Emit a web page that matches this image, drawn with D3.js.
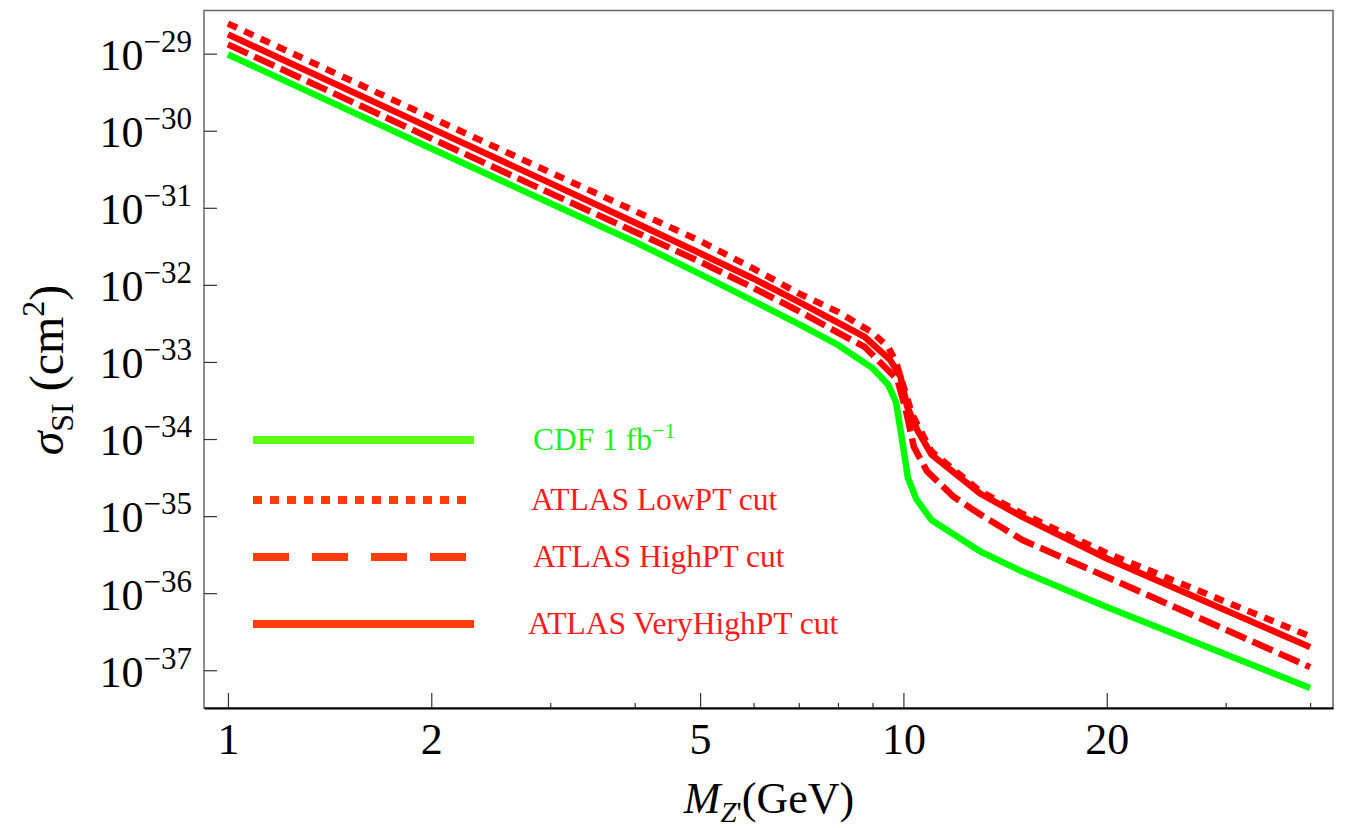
<!DOCTYPE html>
<html>
<head>
<meta charset="utf-8">
<script src="https://cdnjs.cloudflare.com/ajax/libs/d3/7.8.5/d3.min.js"></script>
<style>
body { margin: 0; background: #fff; }
text { font-family: "Liberation Serif", "Times New Roman", serif; }
</style>
</head>
<body>
<div id="chart"></div>
<script>
// Data: Z' mass (GeV) and log10 of sigma_SI (cm^2)
var cdfMass = [1, 2, 3, 4, 5, 6, 7, 8, 9, 9.5, 9.75, 9.85, 10, 10.15, 10.45, 11, 13, 15, 20, 40];
var cdfLogSigma = [-29.01, -30.23, -30.94, -31.44, -31.86, -32.21, -32.51, -32.78, -33.08, -33.30, -33.52, -33.76, -34.12, -34.50, -34.78, -35.05, -35.46, -35.72, -36.18, -37.23];

var lowMass = [1, 2, 3, 4, 5, 6, 7, 8, 9, 9.5, 9.75, 10.3, 11, 13, 15, 20, 40];
var lowLogSigma = [-28.61, -29.83, -30.54, -31.04, -31.43, -31.79, -32.11, -32.35, -32.62, -32.81, -33.00, -33.68, -34.16, -34.68, -34.97, -35.48, -36.56];

var highMass = [1, 2, 3, 4, 5, 6, 7, 8, 8.75, 9.8, 10.1, 10.36, 10.84, 11.87, 13, 15, 20, 40];
var highLogSigma = [-28.88, -30.10, -30.81, -31.31, -31.70, -32.04, -32.34, -32.62, -32.80, -33.23, -33.65, -34.10, -34.42, -34.75, -34.98, -35.31, -35.79, -36.96];

var veryHighMass = [1, 2, 3, 4, 5, 6, 7, 8, 8.75, 9.55, 9.9, 10.13, 10.48, 11, 13, 15, 20, 40];
var veryHighLogSigma = [-28.75, -29.97, -30.68, -31.19, -31.59, -31.92, -32.22, -32.49, -32.67, -32.97, -33.19, -33.58, -33.88, -34.20, -34.71, -35.01, -35.55, -36.70];

// Axis ticks
var xMajorTicks = [1, 2, 5, 10, 20];
var xMinorTicks = [3, 4, 6, 7, 8, 9, 30, 40];
var yTickExponents = [-29, -30, -31, -32, -33, -34, -35, -36, -37];

// Legend
var legendNames = ["CDF 1 fb", "ATLAS LowPT cut", "ATLAS HighPT cut", "ATLAS VeryHighPT cut"];

// Set up SVG width and height
var svgWidth = 1356;
var svgHeight = 828;

var margin = { top: 10.5, right: 23, bottom: 120, left: 204 };
var width = svgWidth - margin.left - margin.right;
var height = svgHeight - margin.top - margin.bottom;

var svg = d3.select("#chart")
	.append("svg")
	.attr("width", svgWidth)
	.attr("height", svgHeight);

var chartGroup = svg.append("g")
	.attr("transform", `translate(${margin.left}, ${margin.top})`);

// scales
var xScale = d3.scaleLog()
	.domain([0.9216, 43.25])
	.range([0, width]);

var yScale = d3.scaleLog()
	.domain([Math.pow(10, -37.49), Math.pow(10, -28.44)])
	.range([height, 0]);

// series table built from the arrays
function makeSeries(mass, logSigma) {
	return mass.map((m, i) => ({ m: m, s: Math.pow(10, logSigma[i]) }));
}

var series = [
	{ data: makeSeries(cdfMass, cdfLogSigma), color: "#00ff00", dash: null },
	{ data: makeSeries(veryHighMass, veryHighLogSigma), color: "#ff0000", dash: null },
	{ data: makeSeries(highMass, highLogSigma), color: "#ff0000", dash: "22,7" },
	{ data: makeSeries(lowMass, lowLogSigma), color: "#ff0000", dash: "10,8" }
];

var line = d3.line()
	.x(d => xScale(d.m))
	.y(d => yScale(d.s));

// draw lines
chartGroup.selectAll(".series")
	.data(series)
	.enter()
	.append("path")
	.attr("class", "series")
	.attr("d", d => line(d.data))
	.attr("fill", "none")
	.attr("stroke", d => d.color)
	.attr("stroke-width", 6.5)
	.attr("stroke-linejoin", "round")
	.attr("stroke-dasharray", d => d.dash);

// frame
chartGroup.append("rect")
	.attr("x", 0)
	.attr("y", 0)
	.attr("width", width)
	.attr("height", height)
	.attr("fill", "none")
	.attr("stroke", "#666")
	.attr("stroke-width", 1.5);

// x axis (ticks point inward)
var xAxis = chartGroup.append("g")
	.attr("transform", `translate(0, ${height})`)
	.call(d3.axisBottom(xScale)
		.tickValues(xMajorTicks)
		.tickSizeInner(-15)
		.tickSizeOuter(0)
		.tickPadding(15)
		.tickFormat(d3.format("d")));

xAxis.select(".domain").attr("stroke", "#000").attr("stroke-width", 2);
xAxis.selectAll(".tick line").attr("stroke", "#333").attr("stroke-width", 1.2);
xAxis.selectAll(".tick text")
	.attr("fill", "#000")
	.style("font-size", "44px")
	.style("font-family", "'Liberation Serif', serif");

var xMinor = chartGroup.append("g")
	.attr("transform", `translate(0, ${height})`)
	.call(d3.axisBottom(xScale)
		.tickValues(xMinorTicks)
		.tickSizeInner(-5)
		.tickSizeOuter(0)
		.tickFormat(""));
xMinor.select(".domain").remove();
xMinor.selectAll(".tick line").attr("stroke", "#333").attr("stroke-width", 1.2);

// y axis
var yAxis = chartGroup.append("g")
	.call(d3.axisLeft(yScale)
		.tickValues(yTickExponents.map(e => Math.pow(10, e)))
		.tickSizeInner(-13)
		.tickSizeOuter(0)
		.tickPadding(12)
		.tickFormat(""));

yAxis.select(".domain").remove();
yAxis.selectAll(".tick line").attr("stroke", "#333").attr("stroke-width", 1.2);
yAxis.selectAll(".tick text")
	.attr("fill", "#000")
	.attr("dy", "0.36em")
	.style("font-size", "44px")
	.style("font-family", "'Liberation Serif', serif")
	.each(function(d, i) {
		var t = d3.select(this);
		t.append("tspan").text("10");
		t.append("tspan")
			.attr("dy", -18)
			.style("font-size", "31px")
			.text("\u2212" + Math.abs(yTickExponents[i]));
	});

// x label
var xLabel = svg.append("text")
	.attr("x", 769)
	.attr("y", 813)
	.attr("text-anchor", "middle")
	.style("font-size", "44px");
xLabel.append("tspan").style("font-style", "italic").text("M");
xLabel.append("tspan").attr("dy", 9).style("font-size", "29px").style("font-style", "italic").text("Z");
xLabel.append("tspan").style("font-size", "29px").text("'");
xLabel.append("tspan").attr("dy", -9).text("(GeV)");

// y label
var yLabel = svg.append("text")
	.attr("transform", "translate(63, 370) rotate(-90)")
	.attr("text-anchor", "middle")
	.style("font-size", "48px");
yLabel.append("tspan").style("font-style", "italic").text("\u03c3");
yLabel.append("tspan").attr("dy", 10).style("font-size", "32px").text("SI");
yLabel.append("tspan").attr("dy", -10).text(" (cm");
yLabel.append("tspan").attr("dy", -19).style("font-size", "32px").text("2");
yLabel.append("tspan").attr("dy", 19).text(")");

// legend
var legendLineColors = ["#5cff1a", "#ff3c0a", "#ff3c0a", "#ff3c0a"];
var legendTextColors = ["#22f022", "#ff1a1a", "#ff1a1a", "#ff1a1a"];
var legendDashes = [null, "9,8", "36,23", null];
var legendY = [440, 500, 557, 624];
var legendTextX = [533, 531, 533, 528];

var legend = svg.append("g");

legend.selectAll("line")
	.data(legendNames)
	.enter()
	.append("line")
	.attr("x1", 253)
	.attr("x2", 474)
	.attr("y1", (d, i) => legendY[i])
	.attr("y2", (d, i) => legendY[i])
	.attr("stroke", (d, i) => legendLineColors[i])
	.attr("stroke-width", 8)
	.attr("stroke-dasharray", (d, i) => legendDashes[i]);

legend.selectAll("text")
	.data(legendNames)
	.enter()
	.append("text")
	.attr("x", (d, i) => legendTextX[i])
	.attr("y", (d, i) => legendY[i] + 10)
	.attr("fill", (d, i) => legendTextColors[i])
	.style("font-size", "31.5px")
	.each(function(d, i) {
		var t = d3.select(this);
		t.append("tspan").text(d);
		if (i === 0) {
			t.append("tspan")
				.attr("dy", -12)
				.style("font-size", "22px")
				.text("\u22121");
		}
	});
</script>
</body>
</html>
